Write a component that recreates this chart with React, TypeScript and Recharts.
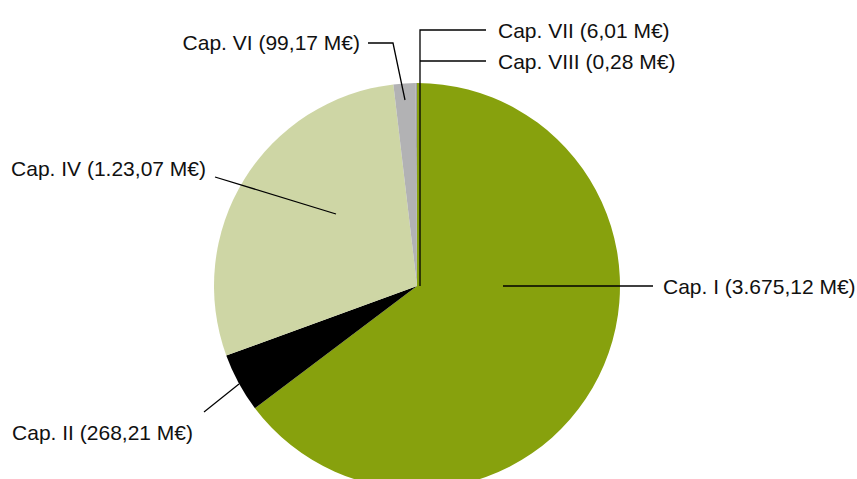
import React from 'react';
import { PieChart, Pie, Cell } from 'recharts';

// chapters, clockwise from 12 o'clock
const chapters = ['Cap. I', 'Cap. II', 'Cap. IV', 'Cap. VI', 'Cap. VII', 'Cap. VIII'];
// M€ — Cap. IV slice (its label text looks truncated)
const amounts = [3675.12, 268.21, 1630, 99.17, 6.01, 0.28];
const labelTexts = [
  'Cap. I (3.675,12 M€)',
  'Cap. II (268,21 M€)',
  'Cap. IV (1.23,07 M€)',
  'Cap. VI (99,17 M€)',
  'Cap. VII (6,01 M€)',
  'Cap. VIII (0,28 M€)',
];
const colors = ['#87a10d', '#000000', '#ced6a5', '#b2b2b4', '#9c9c9e', '#9c9c9e'];

const data = chapters.map((name, i) => ({ name, value: amounts[i], text: labelTexts[i] }));

const CX = 417;
const CY = 286;

// leader line points + text position, relative to the pie centre
const labelLayout: { pts: [number, number][]; tx: number; ty: number; anchor: 'start' | 'end' }[] = [
  { pts: [[86, 0], [236, 0]], tx: 246, ty: 0, anchor: 'start' },
  { pts: [[-178, 98], [-213, 126]], tx: -224, ty: 146, anchor: 'end' },
  { pts: [[-81, -72], [-202, -109]], tx: -211, ty: -118, anchor: 'end' },
  { pts: [[-12, -186], [-24, -243], [-49, -243]], tx: -57, ty: -244, anchor: 'end' },
  { pts: [[3, 0], [3, -256], [69, -256]], tx: 81, ty: -256, anchor: 'start' },
  { pts: [[3, -225], [69, -225]], tx: 81, ty: -225, anchor: 'start' },
];

const renderLabel = (props: any) => {
  const { cx, cy, index } = props;
  const lay = labelLayout[index];
  const points = lay.pts.map(([x, y]) => `${cx + x},${cy + y}`).join(' ');
  return (
    <g key={`lbl-${index}`}>
      <polyline points={points} fill="none" stroke="#000" strokeWidth={1.3} />
      <text
        x={cx + lay.tx}
        y={cy + lay.ty}
        textAnchor={lay.anchor}
        dominantBaseline="central"
        fontFamily="'Liberation Sans', Arial, sans-serif"
        fontSize={21}
        fill="#111"
      >
        {data[index].text}
      </text>
    </g>
  );
};

export default function App() {
  return (
    <div style={{ position: 'absolute', left: 0, top: 0, width: 857, height: 479, background: '#fff' }}>
      <PieChart width={857} height={479} margin={{ top: 0, right: 0, bottom: 0, left: 0 }}>
        <Pie
          data={data}
          dataKey="value"
          nameKey="name"
          cx={CX}
          cy={CY}
          outerRadius={203}
          startAngle={90}
          endAngle={-270}
          stroke="none"
          label={renderLabel}
          labelLine={false}
          isAnimationActive={false}
        >
          {data.map((d, i) => (
            <Cell key={d.name} fill={colors[i]} />
          ))}
        </Pie>
      </PieChart>
    </div>
  );
}
